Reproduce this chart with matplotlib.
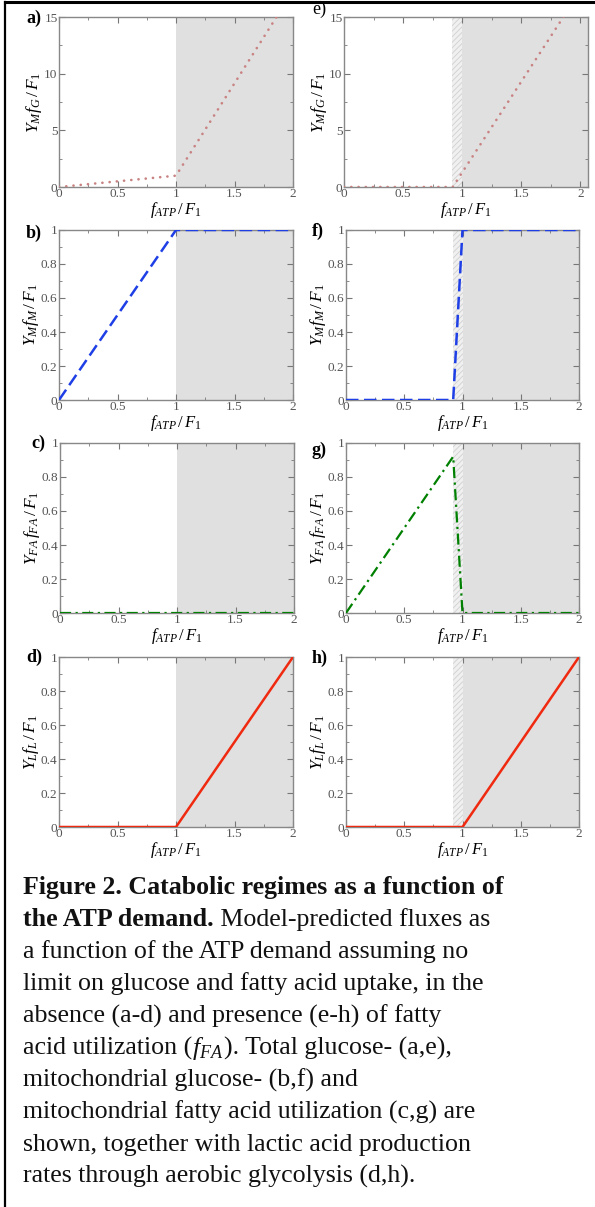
import matplotlib
matplotlib.use('Agg')
import matplotlib.pyplot as plt
from matplotlib.lines import Line2D
from matplotlib.ticker import MultipleLocator

plt.rcParams['font.family'] = ['Liberation Serif', 'DejaVu Serif']
plt.rcParams['mathtext.fontset'] = 'custom'
plt.rcParams['mathtext.rm'] = 'Liberation Serif'
plt.rcParams['mathtext.it'] = 'Liberation Serif:italic'
plt.rcParams['mathtext.bf'] = 'Liberation Serif:bold'
plt.rcParams['hatch.color'] = '#cfcfcf'
plt.rcParams['hatch.linewidth'] = 0.6

W, H = 595, 1207

# data: x = f_ATP / F_1
x_a = [0, 1, 2]
y_a = [0, 1, 17.3]
x_e = [0, 0.92, 2]
y_e = [0, 0, 17.3]
x_b = [0, 1, 2]
y_b = [0, 1, 1]
x_f = [0, 0.92, 1, 2]
y_f = [0, 0, 1, 1]
x_c = [0, 2]
y_c = [0, 0]
x_g = [0, 0.92, 1, 2]
y_g = [0, 0.92, 0, 0]
x_d = [0, 1, 2]
y_d = [0, 0, 1]
x_h = [0, 1, 2]
y_h = [0, 0, 1]

xticks = [0, 0.5, 1, 1.5, 2]
xticklabels = ['0', '0.5', '1', '1.5', '2']
yticks_g = [0, 5, 10, 15]
yticklabels_g = ['0', '5', '10', '15']
yticks_u = [0, 0.2, 0.4, 0.6, 0.8, 1]
yticklabels_u = ['0', '0.2', '0.4', '0.6', '0.8', '1']

# regime boundaries
shade_start = 1.0
hatch_start = 0.915

caption = [
    [("Figure 2. Catabolic regimes as a function of", 'bold')],
    [("the ATP demand.", 'bold'), (" Model-predicted fluxes as", 'normal')],
    [("a function of the ATP demand assuming no", 'normal')],
    [("limit on glucose and fatty acid uptake, in the", 'normal')],
    [("absence (a-d) and presence (e-h) of fatty", 'normal')],
    [("acid utilization (", 'normal'), ("$f_{FA}$", 'normal'), ("). Total glucose- (a,e),", 'normal')],
    [("mitochondrial glucose- (b,f) and", 'normal')],
    [("mitochondrial fatty acid utilization (c,g) are", 'normal')],
    [("shown, together with lactic acid production", 'normal')],
    [("rates through aerobic glycolysis (d,h).", 'normal')],
]

fig = plt.figure(figsize=(W / 100, H / 100), dpi=100)

def px_axes(l, t, r, b):
    return fig.add_axes([l / W, 1 - b / H, (r - l) / W, (b - t) / H])

def style(ax, xmax, yticks, yticklabels, ymax, yminor):
    ax.set_xlim(0, xmax)
    ax.set_ylim(0, ymax)
    ax.set_xticks(xticks)
    ax.set_xticklabels(xticklabels)
    ax.set_yticks(yticks)
    ax.set_yticklabels(yticklabels)
    ax.xaxis.set_minor_locator(MultipleLocator(0.25))
    ax.yaxis.set_minor_locator(MultipleLocator(yminor))
    ax.tick_params(which='both', direction='in', top=True, right=True,
                   colors='#777777', labelcolor='#555555', labelsize=9.5, pad=1)
    ax.tick_params(which='major', length=4, width=0.8)
    ax.tick_params(which='minor', length=2, width=0.6)
    for s in ax.spines.values():
        s.set_color('#888888')
        s.set_linewidth(1.0)
    ax.set_xlabel(r'$f_{ATP}\,/\,F_1$', fontsize=12, labelpad=0)

def shade(ax, xmax, hatched):
    ax.axvspan(shade_start, xmax, color='#e0e0e0', lw=0, zorder=0)
    if hatched:
        ax.axvspan(hatch_start, shade_start, facecolor='#f0f0f0', edgecolor='#d0d0d0',
                   hatch='//////', lw=0, zorder=0)

panels = [
    ('a)', (59, 17, 293, 187), x_a, y_a, r'$Y_M f_G\,/\,F_1$', 'g', 'left'),
    ('b)', (59, 230, 293, 400), x_b, y_b, r'$Y_M f_M\,/\,F_1$', 'u', 'left'),
    ('c)', (60, 443, 294, 613), x_c, y_c, r'$Y_{FA}\, f_{FA}\,/\,F_1$', 'u', 'left'),
    ('d)', (59, 657, 293, 827), x_d, y_d, r'$Y_L f_L\,/\,F_1$', 'u', 'left'),
    ('e)', (344, 17, 588, 187), x_e, y_e, r'$Y_M f_G\,/\,F_1$', 'g', 'right'),
    ('f)', (346, 230, 579, 400), x_f, y_f, r'$Y_M f_M\,/\,F_1$', 'u', 'right'),
    ('g)', (346, 443, 579, 613), x_g, y_g, r'$Y_{FA}\, f_{FA}\,/\,F_1$', 'u', 'right'),
    ('h)', (346, 657, 579, 827), x_h, y_h, r'$Y_L f_L\,/\,F_1$', 'u', 'right'),
]

dotted = dict(color='#c98282', lw=1.9, dashes=(0.05, 2.7), dash_capstyle='round')
dashed = dict(color='#1f3fe6', lw=1.8, dashes=(5, 2.2))
dashdot = dict(color='#008000', lw=1.6, dashes=(5, 2, 1, 2))
solid = dict(color='#f02a10', lw=1.8)
line_styles = {'a)': dotted, 'e)': dotted, 'b)': dashed, 'f)': dashed,
               'c)': dashdot, 'g)': dashdot, 'd)': solid, 'h)': solid}

label_pos = {'a)': (26, 23), 'b)': (26, 238), 'c)': (31, 448), 'd)': (26, 662),
             'e)': (312, 14), 'f)': (312, 236), 'g)': (312, 455), 'h)': (312, 663)}

for lab, rect, xs, ys, ylab, kind, col in panels:
    ax = px_axes(*rect)
    xmax = 2.065 if lab == 'e)' else 2
    shade(ax, xmax, col == 'right')
    ax.plot(xs, ys, zorder=3, clip_on=True, **line_styles[lab])
    if kind == 'g':
        style(ax, xmax, yticks_g, yticklabels_g, 15, 2.5)
    else:
        style(ax, xmax, yticks_u, yticklabels_u, 1, 0.1)
    ax.set_ylabel(ylab, fontsize=12.5, labelpad=0)
    lx, ly = label_pos[lab]
    fig.text(lx / W, 1 - ly / H, lab, fontsize=13,
             fontweight='normal' if lab == 'e)' else 'bold', va='baseline', ha='left')

# frame
fig.add_artist(Line2D([5 / W, 1], [1 - 2 / H, 1 - 2 / H], color='black', lw=2.2))
fig.add_artist(Line2D([5 / W, 5 / W], [0, 1 - 2 / H], color='black', lw=1.6))

# caption
fig.canvas.draw()
renderer = fig.canvas.get_renderer()
x0 = 23
base0, step = 894, 32.1
for i, parts in enumerate(caption):
    xpos = x0
    y = 1 - (base0 + i * step) / H
    for txt, weight in parts:
        t = fig.text(xpos / W, y, txt, fontsize=18.6, fontweight=weight,
                     va='baseline', ha='left', color='#111111')
        bb = t.get_window_extent(renderer)
        xpos += bb.width

fig.savefig('out.png', dpi=100)
